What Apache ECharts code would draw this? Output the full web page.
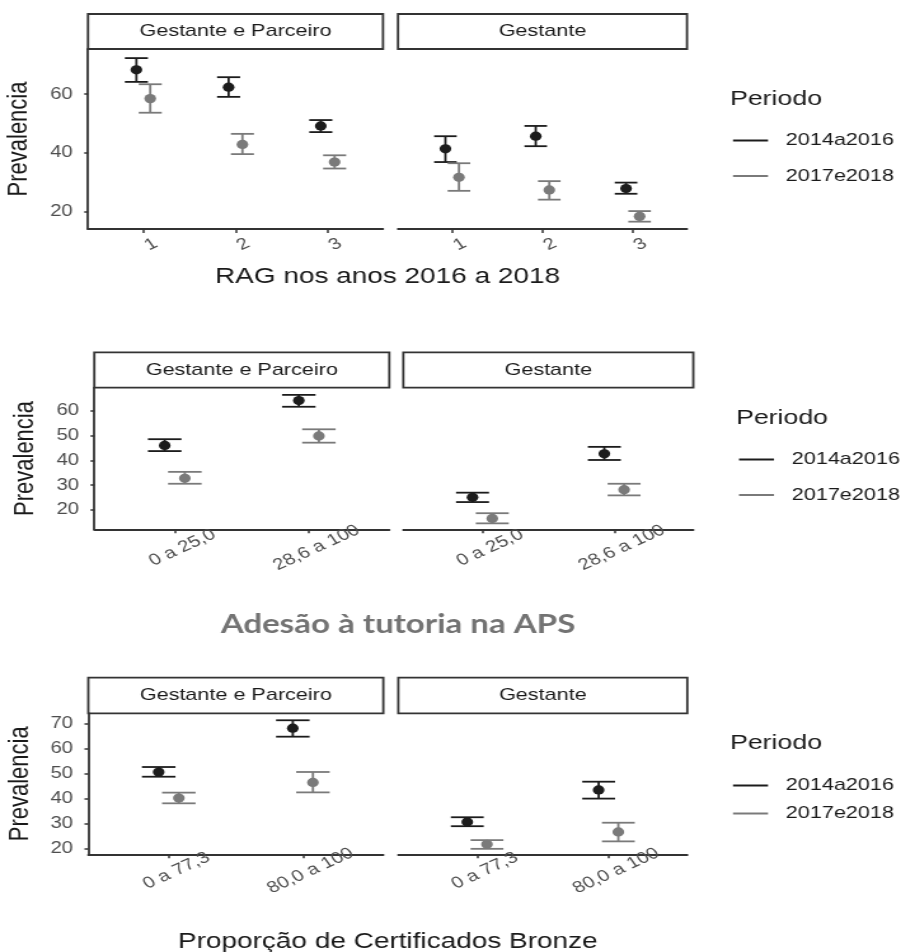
<!DOCTYPE html>
<html>
<head>
<meta charset="utf-8">
<title>Prevalencia por periodo</title>
<script src="https://cdn.jsdelivr.net/npm/echarts@6.0.0/dist/echarts.min.js"></script>
<style>
  html, body { margin: 0; padding: 0; background: #fff; overflow: hidden; }
  /* a figura original está esticada na horizontal */
  #main { width: 720px; height: 952px; transform: scaleX(1.2708333); transform-origin: 0 0; }
</style>
</head>
<body>
<div id="main"></div>
<script>
// ---- dados ----
const facetNames = ["Gestante e Parceiro", "Gestante"];
const periodNames = ["2014a2016", "2017e2018"];

// RAG nos anos 2016 a 2018  -> [prevalencia, inferior, superior]
const ragCats = ["1", "2", "3"];
const ragYTicks = [20, 40, 60];
const ragYRange = [14.1, 75.4];
const ragParceiro2014 = [[68.3, 64.2, 72.3], [62.4, 59.1, 65.8], [49.2, 47.1, 51.2]];
const ragParceiro2017 = [[58.5, 53.7, 63.4], [42.9, 39.6, 46.5], [36.9, 34.7, 39.2]];
const ragGestante2014 = [[41.4, 36.9, 45.7], [45.7, 42.3, 49.2], [27.9, 26.1, 29.9]];
const ragGestante2017 = [[31.7, 27.1, 36.5], [27.4, 24.1, 30.4], [18.4, 16.6, 20.2]];

// Adesão à tutoria na APS
const tutCats = ["0 a 25,0", "28,6 a 100"];
const tutYTicks = [20, 30, 40, 50, 60];
const tutYRange = [12.2, 69.4];
const tutParceiro2014 = [[46.1, 43.8, 48.6], [64.2, 61.7, 66.5]];
const tutParceiro2017 = [[32.8, 30.6, 35.4], [49.9, 47.2, 52.6]];
const tutGestante2014 = [[25.1, 23.2, 27.0], [42.7, 40.2, 45.5]];
const tutGestante2017 = [[16.6, 14.6, 18.7], [28.2, 25.9, 30.6]];

// Proporção de Certificados Bronze
const certCats = ["0 a 77,3", "80,0 a 100"];
const certYTicks = [20, 30, 40, 50, 60, 70];
const certYRange = [17.6, 74.3];
const certParceiro2014 = [[50.7, 48.8, 52.7], [68.3, 64.9, 71.5]];
const certParceiro2017 = [[40.2, 38.1, 42.4], [46.5, 42.5, 50.7]];
const certGestante2014 = [[30.6, 28.9, 32.5], [43.5, 40.0, 46.8]];
const certGestante2017 = [[21.6, 19.8, 23.3], [26.6, 22.8, 30.3]];

// ---- estilo / layout ----
const S = 915 / 720;            // esticamento horizontal
const px = (x) => x / S;        // coordenada da figura -> coordenada do gráfico
const FONT = "Liberation Sans, Arial, sans-serif";
const colors = ["#1c1c1c", "#7a7a7a"];
const axisColor = "#333333";
const DODGE = 0.075;
const CAP_HALF = 0.125;

const panels = [
  {
    cats: ragCats, yTicks: ragYTicks, yRange: ragYRange,
    data: [[ragParceiro2014, ragParceiro2017], [ragGestante2014, ragGestante2017]],
    top: 49, bottom: 229, strip: [14, 49],
    facets: [[88, 383], [398, 687]],
    labelMargin: 19, xTitle: "RAG nos anos 2016 a 2018", xTitleY: 277,
    legendX: 730, legendTitleY: 99, legendTop: 132, legendGap: 18.5,
  },
  {
    cats: tutCats, yTicks: tutYTicks, yRange: tutYRange,
    data: [[tutParceiro2014, tutParceiro2017], [tutGestante2014, tutGestante2017]],
    top: 387.7, bottom: 529.3, strip: [352.3, 387.7],
    facets: [[94.3, 389.3], [403.3, 693.3]],
    labelMargin: 22, xTitle: null,
    legendX: 736, legendTitleY: 418, legendTop: 451, legendGap: 18.5,
  },
  {
    cats: certCats, yTicks: certYTicks, yRange: certYRange,
    data: [[certParceiro2014, certParceiro2017], [certGestante2014, certGestante2017]],
    top: 713.3, bottom: 854.3, strip: [677.7, 713.3],
    facets: [[88.3, 383.3], [398.3, 687.3]],
    labelMargin: 20, xTitle: "Proporção de Certificados Bronze", xTitleY: 942,
    legendX: 730, legendTitleY: 743, legendTop: 777, legendGap: 11,
  },
];

function renderErrorBar(params, api) {
  const x = api.value(0);
  const mid = api.coord([x, api.value(1)]);
  const low = api.coord([x, api.value(2)]);
  const high = api.coord([x, api.value(3)]);
  const half = api.size([CAP_HALF, 0])[0];
  const color = api.visual("color");
  const line = { stroke: color, lineWidth: 1.8 };
  return {
    type: "group",
    children: [
      { type: "line", shape: { x1: mid[0], y1: high[1], x2: mid[0], y2: low[1] }, style: line },
      { type: "line", shape: { x1: mid[0] - half, y1: high[1], x2: mid[0] + half, y2: high[1] }, style: line },
      { type: "line", shape: { x1: mid[0] - half, y1: low[1], x2: mid[0] + half, y2: low[1] }, style: line },
      { type: "circle", shape: { cx: mid[0], cy: mid[1], r: 4.6 }, style: { fill: color } },
    ],
  };
}

const grids = [], xAxes = [], yAxes = [], series = [], graphics = [], legends = [];

panels.forEach((p) => {
  const idxs = p.cats.map((_c, i) => i + 1);
  p.facets.forEach((f, fi) => {
    const gi = grids.length;
    grids.push({
      left: px(f[0]), top: p.top,
      width: px(f[1]) - px(f[0]), height: p.bottom - p.top,
    });
    xAxes.push({
      gridIndex: gi, type: "value",
      min: 0.4, max: p.cats.length + 0.6,
      splitLine: { show: false },
      axisLine: { show: true, onZero: false, lineStyle: { color: axisColor, width: 1.8 } },
      axisTick: { show: true, customValues: idxs, length: 4, lineStyle: { color: axisColor, width: 1.5 } },
      axisLabel: {
        customValues: idxs,
        formatter: (v) => p.cats[Math.round(v) - 1],
        rotate: 30, align: "center", verticalAlign: "middle",
        padding: [0, 0, 0, 14],
        margin: p.labelMargin, fontSize: 16, color: "#4d4d4d", fontFamily: FONT,
      },
    });
    yAxes.push({
      gridIndex: gi, type: "value",
      min: p.yRange[0], max: p.yRange[1],
      show: fi === 0,
      splitLine: { show: false },
      axisLine: { show: true, lineStyle: { color: axisColor, width: 1.8 } },
      axisTick: { show: true, customValues: p.yTicks, length: 3, lineStyle: { color: axisColor, width: 1.5 } },
      axisLabel: { customValues: p.yTicks, margin: 12, fontSize: 16, color: "#4d4d4d", fontFamily: FONT },
      name: "Prevalencia", nameLocation: "middle", nameRotate: 90, nameGap: 43,
      nameTextStyle: { fontSize: 22, color: "#1a1a1a", fontFamily: FONT },
    });
    periodNames.forEach((name, k) => {
      const off = k === 0 ? -DODGE : DODGE;
      series.push({
        type: "custom", name,
        xAxisIndex: gi, yAxisIndex: gi,
        itemStyle: { color: colors[k] },
        clip: false,
        renderItem: renderErrorBar,
        data: p.data[fi][k].map((d, i) => [i + 1 + off, d[0], d[1], d[2]]),
      });
    });
    // caixa da faceta
    const x0 = px(f[0]), x1 = px(f[1]);
    graphics.push({
      type: "rect",
      shape: { x: x0, y: p.strip[0], width: x1 - x0, height: p.strip[1] - p.strip[0] },
      style: { fill: "#fff", stroke: axisColor, lineWidth: 1.8 },
    });
    graphics.push({
      type: "text",
      x: (x0 + x1) / 2, y: (p.strip[0] + p.strip[1]) / 2,
      style: { text: facetNames[fi], fontSize: 17, fontFamily: FONT, fill: "#1a1a1a", align: "center", verticalAlign: "middle" },
    });
  });

  if (p.xTitle) {
    graphics.push({
      type: "text",
      x: (px(p.facets[0][0]) + px(p.facets[1][1])) / 2, y: p.xTitleY,
      style: { text: p.xTitle, fontSize: 22, fontFamily: FONT, fill: "#1a1a1a", align: "center", verticalAlign: "middle" },
    });
  }
  graphics.push({
    type: "text",
    x: px(p.legendX), y: p.legendTitleY,
    style: { text: "Periodo", fontSize: 21, fontFamily: FONT, fill: "#1a1a1a", align: "left", verticalAlign: "middle" },
  });
  legends.push({
    orient: "vertical",
    left: px(p.legendX + 3), top: p.legendTop,
    padding: 0,
    data: periodNames,
    icon: "rect", itemWidth: px(35), itemHeight: 2,
    itemGap: p.legendGap,
    selectedMode: false,
    textStyle: { fontSize: 17, color: "#1a1a1a", fontFamily: FONT, padding: [0, 0, 0, 9] },
  });
});

graphics.push({
  type: "text",
  x: px(398), y: 625,
  style: {
    text: "Adesão à tutoria na APS", fontSize: 26, fontWeight: "bold",
    fontFamily: "Lato, Open Sans, sans-serif", fill: "#737373",
    align: "center", verticalAlign: "middle",
  },
});

const chart = echarts.init(document.getElementById("main"), null, { renderer: "canvas" });
chart.setOption({
  animation: false,
  backgroundColor: "#fff",
  grid: grids,
  xAxis: xAxes,
  yAxis: yAxes,
  legend: legends,
  series,
  graphic: { elements: graphics },
});
</script>
</body>
</html>
